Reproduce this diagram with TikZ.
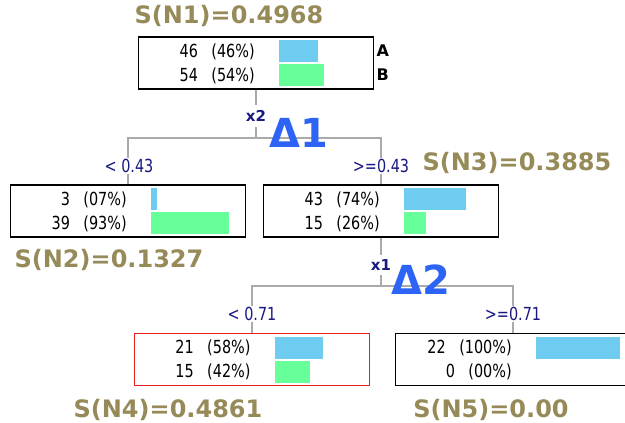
\documentclass[tikz,border=0pt]{standalone}
\usepackage{fontspec}
\setmainfont{DejaVu Sans}
\newfontfamily\tablefont[FakeStretch=0.8]{DejaVu Sans}
\usetikzlibrary{positioning}

\definecolor{barA}{RGB}{110,204,240}
\definecolor{barB}{RGB}{102,255,153}
\definecolor{score}{RGB}{150,138,88}
\definecolor{split}{RGB}{25,25,130}
\definecolor{gain}{RGB}{45,100,245}
\definecolor{edge}{RGB}{170,170,170}
\definecolor{pick}{RGB}{235,30,30}

% two class rows (text + bar) inside box #1; #3 and #5 are the fractions
\newcommand{\classrows}[5]{%
  \node[count] (#1a) at ([shift={(117,15)}]#1.north west) {#2};
  \node[count] (#1b) at ([shift={(117,39)}]#1.north west) {#4};
  \ifdim#3pt>0pt \fill[barA] ([shift={(141,4)}]#1.north west) rectangle ++(84*#3,22);\fi
  \ifdim#5pt>0pt \fill[barB] ([shift={(141,28)}]#1.north west) rectangle ++(84*#5,22);\fi
}

\begin{document}
\begin{tikzpicture}[
  x=1pt, y=-1pt,
  box/.style={draw=black, line width=1.2pt, fill=white, inner sep=0pt,
    minimum width=235pt, minimum height=52pt},
  count/.style={anchor=east, inner sep=0pt, font=\tablefont\fontsize{18}{20}\selectfont},
  branch/.style={draw=edge, line width=1.2pt},
  cut/.style={fill=white, inner xsep=1pt, inner ysep=1pt, text=split,
    font=\tablefont\fontsize{18}{20}\selectfont},
  var/.style={fill=white, inner xsep=1pt, inner ysep=5pt, text=split,
    font=\bfseries\fontsize{15}{17}\selectfont},
  score/.style={text=score, font=\bfseries\fontsize{24}{26}\selectfont},
  gain/.style={text=gain, font=\bfseries\fontsize{40}{44}\selectfont}
]
  \useasboundingbox (0,0) rectangle (625,423);

  % tree nodes
  \node[box] (n1) at (256,63) {};
  \node[box] (n2) at (128,211) {};
  \node[box] (n3) at (381,211) {};
  \node[box, draw=pick, line width=1.6pt] (n4) at (252,359.5) {};
  \node[box] (n5) at (513,359.5) {};

  \classrows{n1}{46\hspace{0.75em}(46\%)}{0.46}{54\hspace{0.75em}(54\%)}{0.54}
  \classrows{n2}{3\hspace{0.75em}(07\%)}{0.07}{39\hspace{0.75em}(93\%)}{0.93}
  \classrows{n3}{43\hspace{0.75em}(74\%)}{0.74}{15\hspace{0.75em}(26\%)}{0.26}
  \classrows{n4}{21\hspace{0.75em}(58\%)}{0.58}{15\hspace{0.75em}(42\%)}{0.42}
  \classrows{n5}{22\hspace{0.75em}(100\%)}{1}{0\hspace{0.75em}(00\%)}{0}

  \node[anchor=west, font=\bfseries\fontsize{16}{18}\selectfont] (clsA) at (373,51) {A};
  \node[anchor=west, font=\bfseries\fontsize{16}{18}\selectfont] (clsB) at (373,75) {B};

  % branches
  \coordinate (j1) at (256,138);
  \coordinate (j2) at (381,286);
  \draw[branch] (n1.south) -- (j1);
  \draw[branch] (j1) -| (n2.north);
  \draw[branch] (j1) -| (n3.north);
  \draw[branch] (n3.south) -- (j2);
  \draw[branch] (j2) -| (n4.north);
  \draw[branch] (j2) -| (n5.north);

  \node[var] (x2) at (256,116) {x2};
  \node[var] (x1) at (381,265) {x1};
  \node[cut] (c1) at (129,166) {<\ 0.43};
  \node[cut] (c2) at (381,166) {>=0.43};
  \node[cut] (c3) at (252,314) {<\ 0.71};
  \node[cut] (c4) at (513,314) {>=0.71};

  % impurity of each node and gains
  \node[score] (s1) at (229,16) {S(N1)=0.4968};
  \node[score] (s2) at (109,260) {S(N2)=0.1327};
  \node[score] (s3) at (517,163) {S(N3)=0.3885};
  \node[score] (s4) at (168,410) {S(N4)=0.4861};
  \node[score] (s5) at (491,410) {S(N5)=0.00};
  \node[gain] (d1) at (299,133) {Δ1};
  \node[gain] (d2) at (421,280) {Δ2};
\end{tikzpicture}
\end{document}
